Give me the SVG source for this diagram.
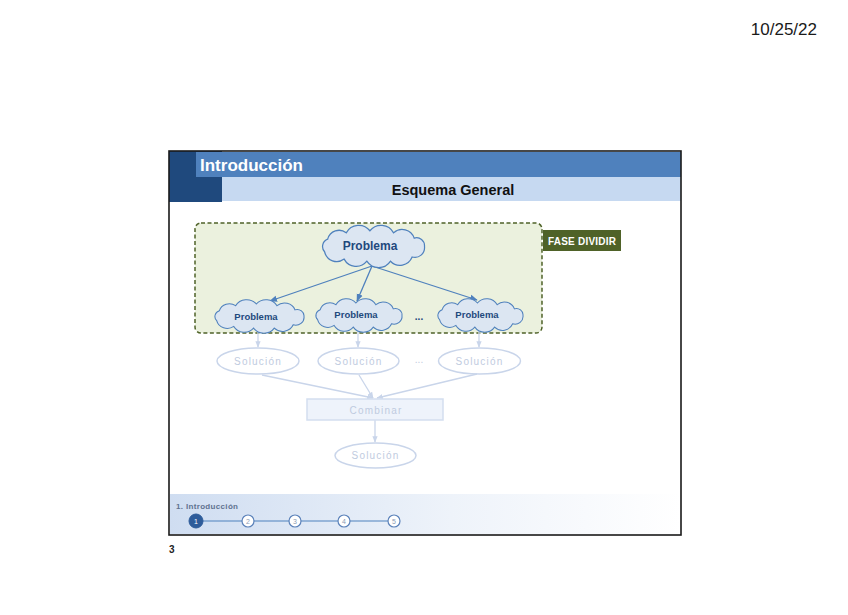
<svg xmlns="http://www.w3.org/2000/svg" width="848" height="615" viewBox="0 0 848 615">
<style>
text{font-family:"Liberation Sans",Arial,sans-serif}
.cloud{fill:#DCE6F2;stroke:#4F81BD;stroke-width:1.2}
.pt{fill:#1F497D;font-weight:bold;text-anchor:middle}
.sol{fill:none;stroke:#C9D5EA;stroke-width:1.5}
.solt{fill:#BFCBE0;font-size:10px;letter-spacing:1.2px;text-anchor:middle}
.fl{stroke:#C9D5EA;stroke-width:1.3;fill:none}
.arr{stroke:#4F81BD;stroke-width:1.3;fill:none}
.step{fill:#fff;stroke:#5B82BA;stroke-width:1.2}
.stept{fill:#8A9BB5;font-size:7px;text-anchor:middle}
</style>
<defs>
<path id="cl" d="M50,0 A9.4,9.4 0 0 1 38,10 A12.8,12.8 0 0 1 17,14 A13.8,13.8 0 0 1 -6,14 A13.3,13.3 0 0 1 -28,12 A12.1,12.1 0 0 1 -47,5 A7.4,7.4 0 0 1 -44,-7 A11.4,11.4 0 0 1 -26,-13 A13.9,13.9 0 0 1 -3,-15 A13.9,13.9 0 0 1 20,-13 A12.4,12.4 0 0 1 40,-8 A7.7,7.7 0 0 1 50,0 Z"/>
<marker id="ah" viewBox="0 0 10 10" refX="9" refY="5" markerWidth="6" markerHeight="6" orient="auto"><path d="M0,1 L10,5 L0,9 Z" fill="#4F81BD"/></marker>
<marker id="ahl" viewBox="0 0 10 10" refX="9" refY="5" markerWidth="5" markerHeight="5" orient="auto"><path d="M0,1 L10,5 L0,9 Z" fill="#C9D5EA"/></marker>
<linearGradient id="fg" x1="0" y1="0" x2="1" y2="0"><stop offset="0" stop-color="#CFDDF1"/><stop offset="0.55" stop-color="#EEF3FA"/><stop offset="1" stop-color="#FFFFFF"/></linearGradient>
</defs>
<rect width="848" height="615" fill="#fff"/>
<text x="817" y="35" font-size="17" fill="#1a1a1a" text-anchor="end">10/25/22</text>
<g id="slide">
<rect x="169" y="151" width="512" height="384" fill="#fff"/>
<rect x="169" y="151" width="53" height="51" fill="#1F497D"/>
<rect x="196" y="152" width="485" height="25" fill="#4F81BD"/>
<rect x="222" y="177" width="459" height="24" fill="#C6D9F1"/>
<text x="200" y="171" font-size="17" font-weight="bold" fill="#fff">Introducción</text>
<text x="453" y="195" font-size="14.5" font-weight="bold" fill="#111" text-anchor="middle">Esquema General</text>
<rect x="170" y="494" width="511" height="40" fill="url(#fg)"/>
</g>
<g id="fase">
<rect x="195" y="223" width="347" height="110" rx="6" fill="#EBF1DE" stroke="#4F6228" stroke-width="1.5" stroke-dasharray="4,2.5"/>
<rect x="543" y="230" width="78" height="21" fill="#4F6228"/>
<text x="582" y="245" font-size="10" font-weight="bold" fill="#fff" text-anchor="middle" textLength="68">FASE DIVIDIR</text>
</g>
<g id="connectors">
<line class="arr" x1="372" y1="266" x2="270" y2="301" marker-end="url(#ah)"/>
<line class="arr" x1="372" y1="266" x2="357" y2="301" marker-end="url(#ah)"/>
<line class="arr" x1="372" y1="266" x2="477" y2="300" marker-end="url(#ah)"/>
<line class="fl" x1="258" y1="330" x2="258" y2="347" marker-end="url(#ahl)"/>
<line class="fl" x1="358" y1="330" x2="358" y2="347" marker-end="url(#ahl)"/>
<line class="fl" x1="479" y1="330" x2="479" y2="347" marker-end="url(#ahl)"/>
<line class="fl" x1="262" y1="375" x2="373" y2="398" marker-end="url(#ahl)"/>
<line class="fl" x1="359" y1="375" x2="373" y2="398" marker-end="url(#ahl)"/>
<line class="fl" x1="477" y1="374" x2="377" y2="398" marker-end="url(#ahl)"/>
<line class="fl" x1="375" y1="420" x2="375" y2="442" marker-end="url(#ahl)"/>
</g>
<g id="p0">
<use href="#cl" class="cloud" transform="translate(373,246.5) scale(1.03,1.05)"/>
<text class="pt" x="370" y="250" font-size="12">Problema</text>
</g>
<g id="p1">
<use href="#cl" class="cloud" transform="translate(259,316.5) scale(0.9,0.83)"/>
<text class="pt" x="256" y="320" font-size="9.5">Problema</text>
</g>
<g id="p2">
<use href="#cl" class="cloud" transform="translate(358.5,315.5) scale(0.87,0.83)"/>
<text class="pt" x="356" y="318" font-size="9.5">Problema</text>
</g>
<g id="p3">
<use href="#cl" class="cloud" transform="translate(480,315.5) scale(0.86,0.83)"/>
<text class="pt" x="477" y="318" font-size="9.5">Problema</text>
</g>
<text x="419" y="320" font-size="10" font-weight="bold" fill="#1F497D" text-anchor="middle">...</text>
<g id="s1">
<ellipse class="sol" cx="258" cy="361" rx="41" ry="13"/>
<text class="solt" x="258" y="365">Solución</text>
</g>
<g id="s2">
<ellipse class="sol" cx="358.5" cy="361" rx="40.5" ry="13"/>
<text class="solt" x="358.5" y="365">Solución</text>
</g>
<g id="s3">
<ellipse class="sol" cx="479.5" cy="361" rx="41" ry="13"/>
<text class="solt" x="479.5" y="365">Solución</text>
</g>
<text x="419" y="363" font-size="10" fill="#BFCBE0" text-anchor="middle">...</text>
<g id="comb">
<rect x="307" y="399" width="136" height="21" fill="#EEF3FB" stroke="#D3DEEF" stroke-width="1.5"/>
<text class="solt" x="376" y="414" letter-spacing="1.8">Combinar</text>
</g>
<g id="sf">
<ellipse class="sol" cx="375.5" cy="455.5" rx="40.5" ry="12.5"/>
<text class="solt" x="375.5" y="459">Solución</text>
</g>
<g id="footer">
<text x="176" y="509" font-size="8" font-weight="bold" fill="#5F7290" textLength="62">1. Introducción</text>
<line x1="196" y1="521" x2="394" y2="521" stroke="#4F81BD" stroke-width="1.2"/>
<circle cx="196" cy="521" r="7" fill="#2E5C9A" stroke="#2E5C9A"/>
<text x="196" y="524" font-size="7" fill="#fff" text-anchor="middle">1</text>
<circle class="step" cx="248" cy="521" r="6"/><text class="stept" x="248" y="523.5">2</text>
<circle class="step" cx="295" cy="521" r="6"/><text class="stept" x="295" y="523.5">3</text>
<circle class="step" cx="344" cy="521" r="6"/><text class="stept" x="344" y="523.5">4</text>
<circle class="step" cx="394" cy="521" r="6"/><text class="stept" x="394" y="523.5">5</text>
</g>
<rect x="169" y="151" width="512" height="384" fill="none" stroke="#1a1a1a" stroke-width="1.6"/>
<text x="169" y="553" font-size="10" font-weight="bold" fill="#222">3</text>
</svg>
